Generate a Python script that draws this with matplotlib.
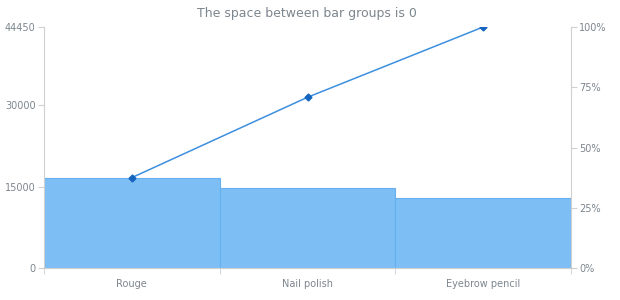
import numpy as np
import matplotlib.pyplot as plt

# pareto data
categories = ["Rouge", "Nail polish", "Eyebrow pencil"]
sales = [16670, 14820, 12960]
y_ticks = [0, 15000, 30000, 44450]
pct_ticks = [0, 25, 50, 75, 100]

total = sum(sales)
cum_pct = np.cumsum(sales) / total * 100

grey = '#7c868e'
axis_col = '#d0d0d0'

fig = plt.figure(figsize=(6.2, 3.0), dpi=100)
ax = fig.add_axes([44/620, 32/300, 527/620, 241/300])
x = np.arange(len(categories))
ax.bar(x, sales, width=1.0, color='#7dbef5', edgecolor='#64b0f0', linewidth=0.8, zorder=2)
ax.set_xlim(-0.5, len(categories) - 0.5)
ax.set_ylim(0, total)
ax.set_yticks(y_ticks)
ax.set_xticks(x)
ax.set_xticklabels(categories)
ax.set_xticks(np.arange(-0.5, len(categories)), minor=True)
ax.tick_params(axis='x', which='major', length=0, pad=8, labelsize=7, labelcolor=grey)
ax.tick_params(axis='x', which='minor', length=4, color=axis_col)
ax.tick_params(axis='y', length=4, color=axis_col, labelsize=7, labelcolor=grey, pad=2)

ax2 = ax.twinx()
ax2.plot(x, cum_pct, color='#3d8fe0', linewidth=1.1, marker='D', markersize=3.5,
         markerfacecolor='#1565c0', markeredgecolor='#1565c0', zorder=3)
ax2.set_ylim(0, 100)
ax2.set_yticks(pct_ticks)
ax2.set_yticklabels([str(p) + '%' for p in pct_ticks])
ax2.tick_params(axis='y', length=4, color=axis_col, labelsize=7, labelcolor=grey, pad=2)

for a in (ax, ax2):
    a.spines['top'].set_visible(False)
    for s in ('left', 'right', 'bottom'):
        a.spines[s].set_color(axis_col)
        a.spines[s].set_linewidth(0.8)
ax.spines['right'].set_visible(False)
ax2.spines['left'].set_visible(False)

fig.text(307/620, 1 - 13/300, "The space between bar groups is 0", ha='center', va='center',
         fontsize=9, color=grey)

fig.savefig('out.png', dpi=100)
